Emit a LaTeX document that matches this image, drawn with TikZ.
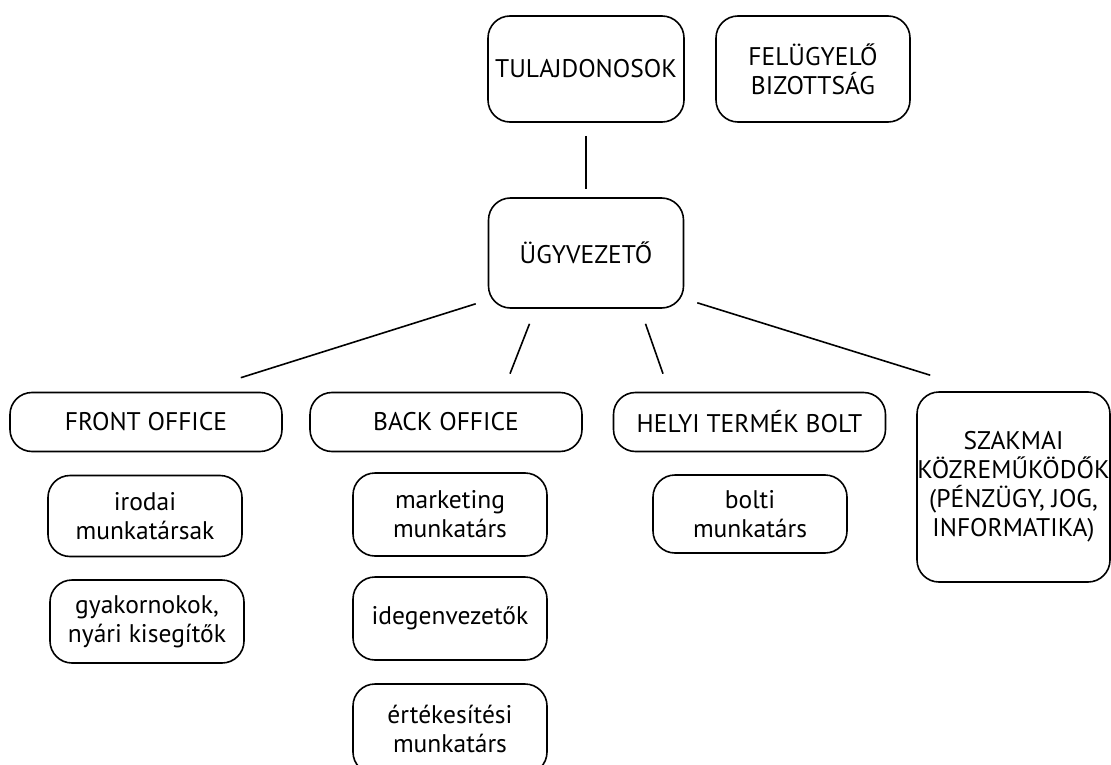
\documentclass[tikz,border=0pt]{standalone}
\usepackage{fontspec}
\setmainfont{PT Sans}
\usetikzlibrary{positioning}

\begin{document}
\begin{tikzpicture}[x=1pt,y=-1pt,line width=1.6pt,
  unit/.style={draw,rounded corners=22pt,align=center,inner sep=0pt,font=\fontsize{25.5}{29}\selectfont},
  dept/.style={unit,minimum width=272pt,minimum height=59pt},
  staff/.style={unit,minimum width=194pt,minimum height=81pt}]
  \useasboundingbox (0,0) rectangle (1111,765);
  % top level
  \node [unit,minimum width=196pt,minimum height=106pt] (tul) at (586,69) {TULAJDONOSOK};
  \node [unit,minimum width=194pt,minimum height=106pt] (fel) at (813,69) {FELÜGYELŐ\\BIZOTTSÁG};
  \node [unit,minimum width=195pt,minimum height=110pt] (ugy) at (586,253) {ÜGYVEZETŐ};
  % departments
  \node [dept] (front) at (146,422) {FRONT OFFICE};
  \node [dept] (back) at (446,422) {BACK OFFICE};
  \node [dept] (helyi) at (749.5,422) {HELYI TERMÉK BOLT};
  \node [unit,minimum width=193pt,minimum height=190pt] (szak) at (1013.5,487) {SZAKMAI\\KÖZREMŰKÖDŐK\\(PÉNZÜGY, JOG,\\INFORMATIKA)};
  % staff
  \node [staff] (irodai) at (145,516) {irodai\\munkatársak};
  \node [staff,minimum height=83pt] (gyak) at (147,621.5) {gyakornokok,\\nyári kisegítők};
  \node [staff,minimum height=83pt] (mark) at (450,514.5) {marketing\\munkatárs};
  \node [staff,minimum height=83pt] (ideg) at (450,618.5) {idegenvezetők};
  \node [staff,minimum height=90pt] (ertek) at (450,729) {értékesítési\\munkatárs};
  \node [staff,minimum height=78pt] (bolti) at (750,514) {bolti\\munkatárs};
  % connectors
  \draw [shorten <=13pt,shorten >=8pt] (tul) -- (ugy);
  \draw ([xshift=-12pt,yshift=5pt]ugy.south west) -- ([xshift=-42pt,yshift=14pt]front.north east);
  \draw ([xshift=-56.5pt,yshift=-15pt]ugy.south) -- ([xshift=64pt,yshift=18pt]back.north);
  \draw ([xshift=59.5pt,yshift=-15pt]ugy.south) -- ([xshift=-86.5pt,yshift=18pt]helyi.north);
  \draw ([xshift=13pt,yshift=6pt]ugy.south east) -- ([xshift=14pt,yshift=16pt]szak.north west);
\end{tikzpicture}
\end{document}
